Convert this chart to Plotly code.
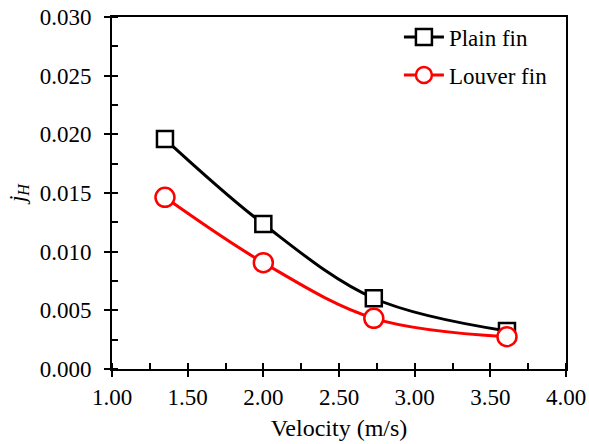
import plotly.graph_objects as go

velocity = [1.35, 2.00, 2.73, 3.61]
plain_fin = [0.0196, 0.01236, 0.00603, 0.00324]
louver_fin = [0.01463, 0.00906, 0.00432, 0.00275]

FONT = "Liberation Serif"
FS = 23

fig = go.Figure()
fig.add_trace(go.Scatter(
    x=velocity, y=plain_fin, name="Plain fin", mode="lines+markers",
    line=dict(color="black", width=3, shape="spline"),
    marker=dict(symbol="square", size=16, color="white", line=dict(color="black", width=2.5)),
    legendgroup="a"))
fig.add_trace(go.Scatter(
    x=velocity, y=louver_fin, name="Louver fin", mode="lines+markers",
    line=dict(color="#ff0000", width=3, shape="spline"),
    marker=dict(symbol="circle", size=19, color="white", line=dict(color="#ff0000", width=2.5)),
    legendgroup="b"))
# invisible trace so overlay axes draw
fig.add_trace(go.Scatter(x=[1], y=[0], xaxis="x2", yaxis="y2", mode="markers",
                         marker=dict(opacity=0), showlegend=False, hoverinfo="skip"))

common = dict(showgrid=False, zeroline=False, color="black", automargin=False,
              tickfont=dict(family=FONT, size=FS, color="black"))
fig.update_layout(
    width=589, height=444,
    margin=dict(l=112, r=23, t=17, b=75),
    paper_bgcolor="white", plot_bgcolor="white",
    font=dict(family=FONT, size=FS, color="black"),
    showlegend=True,
    legend=dict(x=0.632, y=1.004, xanchor="left", yanchor="top",
                bgcolor="rgba(0,0,0,0)", font=dict(family=FONT, size=FS),
                tracegroupgap=5, itemwidth=40),
    xaxis=dict(range=[1, 4], dtick=0.5, tick0=1, tickformat=".2f",
               ticks="outside", ticklen=6, tickwidth=2, tickcolor="black",
               showline=True, linewidth=2, linecolor="black", mirror=True,
               minor=dict(dtick=0.25, ticks="inside", ticklen=6, tickwidth=2, tickcolor="black"),
               title=dict(text="Velocity (m/s)", font=dict(family=FONT, size=24), standoff=11),
               **common),
    yaxis=dict(range=[0, 0.030], dtick=0.005, tick0=0, tickformat=".3f",
               ticks="outside", ticklen=6, tickwidth=2, tickcolor="black",
               showline=True, linewidth=2, linecolor="black", mirror=True,
               ticklabelstandoff=8,
               minor=dict(dtick=0.0025, ticks="inside", ticklen=6, tickwidth=2, tickcolor="black"),
               title=dict(text="<i>j</i><sub><i>H</i></sub>", font=dict(family=FONT, size=FS), standoff=8),
               **common),
    xaxis2=dict(range=[1, 4], dtick=0.5, tick0=1, overlaying="x", anchor="y2",
                ticks="inside", ticklen=6, tickwidth=2, tickcolor="black", automargin=False,
                showticklabels=False, showgrid=False, zeroline=False, showline=False),
    yaxis2=dict(range=[0, 0.030], dtick=0.005, tick0=0, overlaying="y", anchor="x2",
                ticks="inside", ticklen=6, tickwidth=2, tickcolor="black", automargin=False,
                showticklabels=False, showgrid=False, zeroline=False, showline=False),
)

fig.write_html("out.html", config={"displayModeBar": False},
               post_script="document.body.style.margin='0';document.body.style.overflow='hidden';")
